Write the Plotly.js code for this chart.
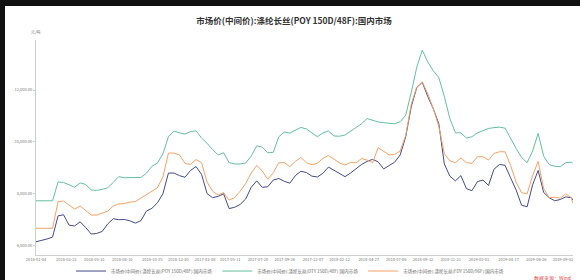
<!DOCTYPE html>
<html>
<head>
<meta charset="utf-8">
<script src="https://cdn.plot.ly/plotly-3.0.1.min.js"></script>
<style>html,body{margin:0;padding:0;background:#fff;}#chart{width:580px;height:280px;}</style>
</head>
<body>
<div id="chart"></div>
<script>
// Biweekly sample dates (at these dates)
const dates = [
 "2016-01-04","2016-01-18","2016-02-01","2016-02-15","2016-02-29","2016-03-14","2016-03-28","2016-04-11","2016-04-25","2016-05-09",
 "2016-05-23","2016-06-06","2016-06-20","2016-07-04","2016-07-18","2016-08-01","2016-08-15","2016-08-29","2016-09-12","2016-09-26",
 "2016-10-10","2016-10-24","2016-11-07","2016-11-21","2016-12-05","2016-12-19",
 "2017-01-02","2017-01-16","2017-01-30","2017-02-13","2017-02-27","2017-03-13","2017-03-27","2017-04-10","2017-04-24","2017-05-08",
 "2017-05-22","2017-06-05","2017-06-19","2017-07-03","2017-07-17","2017-07-31","2017-08-14","2017-08-28","2017-09-11","2017-09-25",
 "2017-10-09","2017-10-23","2017-11-06","2017-11-20","2017-12-04","2017-12-18",
 "2018-01-01","2018-01-15","2018-01-29","2018-02-12","2018-02-26","2018-03-12","2018-03-26","2018-04-09","2018-04-23","2018-05-07",
 "2018-05-21","2018-06-04","2018-06-18","2018-07-02","2018-07-16","2018-07-30","2018-08-13","2018-08-27","2018-09-10","2018-09-24",
 "2018-10-08","2018-10-22","2018-11-05","2018-11-19","2018-12-03","2018-12-17","2018-12-31",
 "2019-01-14","2019-01-28","2019-02-11","2019-02-25","2019-03-11","2019-03-25","2019-04-08","2019-04-22","2019-05-06","2019-05-20",
 "2019-06-03","2019-06-17","2019-07-01","2019-07-15","2019-07-29","2019-08-12","2019-08-26","2019-09-09","2019-09-23","2019-09-27"
];

// POY 150D/48F (navy)
const poy = [
 6150,6200,6258,6330,7150,7190,6790,6760,6920,6700,
 6450,6470,6550,6840,7040,7000,7010,6960,6870,6960,
 7330,7440,7650,8000,8800,8800,
 8700,8636,8900,9050,8750,8010,7850,7900,8000,7430,
 7480,7590,7800,8250,8500,8250,8270,8530,8590,8480,
 8410,8700,8870,8820,8680,8650,
 8790,9030,8900,8800,8661,8800,8960,9130,9250,9330,
 9230,8960,9090,9220,9500,10200,11350,12100,12300,11750,
 11280,10700,9150,8680,8500,8700,8200,
 8120,8470,8532,8320,8950,9130,9100,8620,8150,7560,
 7500,8350,8900,8050,7850,7730,7780,7880,7850,7761
];

// DTY 150D/48F (green)
const dty = [
 7730,7730,7730,7730,8460,8430,8350,8250,8420,8360,
 8150,8130,8170,8230,8440,8660,8620,8620,8620,8630,
 8790,9060,9180,9540,10200,10420,
 10350,10300,10400,10430,10150,9950,9700,9500,9580,9200,
 9150,9150,9190,9450,9850,9800,9580,9600,10200,10380,
 10340,10450,10560,10500,10350,10200,
 10350,10420,10230,10220,10266,10420,10550,10700,10900,10830,
 10770,10740,10710,10700,10780,11030,11900,12880,13540,13080,
 12740,12480,11750,10900,10350,10350,10150,
 10200,10350,10430,10520,10550,10570,10530,10130,9750,9400,
 9200,9650,10330,9450,9130,9060,9046,9200,9220,9175
];

// FDY 150D/96F (orange)
const fdy = [
 6670,6670,6670,6670,7700,7720,7560,7410,7530,7340,
 7180,7180,7250,7330,7530,7610,7620,7680,7700,7830,
 7990,8120,8230,8650,9570,9570,
 9500,9175,9130,9320,9200,8450,8100,7950,8050,7760,
 7850,8100,8400,8800,9100,8880,8560,8810,9200,9200,
 9046,9250,9400,9200,9120,9180,
 9367,9480,9350,9190,9110,9210,9190,9360,9300,9200,
 9780,9650,9495,9520,9650,10250,11450,12120,12320,11850,
 11280,10600,9550,9270,9200,9380,9200,
 9175,9430,9430,9300,9560,9620,9620,9100,8450,8040,
 8000,8700,9250,8200,7850,7870,7830,7990,7850,7630
];

const tickDates = ["2016-01-04","2016-03-21","2016-05-31","2016-08-10","2016-10-25","2016-12-30","2017-03-08","2017-05-11",
 "2017-07-20","2017-09-26","2017-12-07","2018-02-12","2018-04-27","2018-07-06","2018-09-12","2018-11-21","2019-02-01",
 "2019-04-17","2019-06-26","2019-09-02"];
const yTicks = [6000, 8000, 10000, 12000];

const names = [
 "市场价(中间价):涤纶长丝(POY 150D/48F):国内市场",
 "市场价(中间价):涤纶长丝(DTY 150D/48F):国内市场",
 "市场价(中间价):涤纶长丝(FDY 150D/96F):国内市场"
];
const titleText = "市场价(中间价):涤纶长丝(POY 150D/48F):国内市场";
const colors = ["#434a8c", "#62c09c", "#f5a264"];

const series = [poy, dty, fdy];
const traces = series.map((s, i) => ({
  x: dates, y: s, type: "scatter", mode: "lines", name: names[i],
  line: {color: colors[i], width: 1}, hoverinfo: "skip"
}));

const layout = {
  width: 580, height: 280,
  margin: {l: 36, r: 7, t: 40, b: 25, pad: 0},
  paper_bgcolor: "#fff", plot_bgcolor: "#fff",
  font: {family: "Noto Sans CJK SC, Noto Sans, sans-serif", color: "#666", size: 4},
  title: {text: "<b>" + titleText + "</b>", font: {size: 8.5, color: "#333", family: "Noto Sans CJK SC, sans-serif"},
          xref: "container", x: 0.507, xanchor: "center", yref: "container", y: 0.925, yanchor: "middle"},
  xaxis: {type: "date", range: ["2016-01-04", "2019-09-27 10:00"], tickvals: tickDates, ticktext: tickDates,
          showgrid: false, zeroline: false, showline: true, linecolor: "#cfcfcf", linewidth: 1,
          ticks: "", tickfont: {size: 4, color: "#777"}},
  yaxis: {range: [5640, 13930], tickvals: yTicks, tickformat: ",.2f", showgrid: false, zeroline: false,
          showline: true, linecolor: "#cfcfcf", linewidth: 1, ticks: "outside", ticklen: 2, tickcolor: "#cfcfcf",
          tickfont: {size: 4, color: "#777"}},
  showlegend: true,
  legend: {orientation: "h", xref: "container", x: 0.5, xanchor: "center", yref: "container", y: 0.032, yanchor: "middle",
           font: {size: 4.5, color: "#666"}, itemwidth: 30, bgcolor: "rgba(0,0,0,0)"},
  annotations: [
    {text: "元/吨", xref: "paper", yref: "paper", x: 0, y: 1.037, xanchor: "center", yanchor: "middle",
     showarrow: false, font: {size: 4, color: "#777"}},
    {text: "数据来源：Wind", xref: "paper", yref: "paper", x: 1.0, y: -0.105, xanchor: "right", yanchor: "middle",
     showarrow: false, font: {size: 5, color: "#e0443c"}}
  ],
  shapes: [
    {type: "rect", xref: "paper", yref: "paper", x0: -0.1, x1: 1.1, y0: (255-6)/215, y1: 1.25, fillcolor: "#111", line: {width: 0}},
    {type: "rect", xref: "paper", yref: "paper", x0: -0.1, x1: (5-36)/537, y0: -0.2, y1: 1.25, fillcolor: "#111", line: {width: 0}}
  ]
};

Plotly.newPlot("chart", traces, layout, {displayModeBar: false, staticPlot: true});
</script>
</body>
</html>
